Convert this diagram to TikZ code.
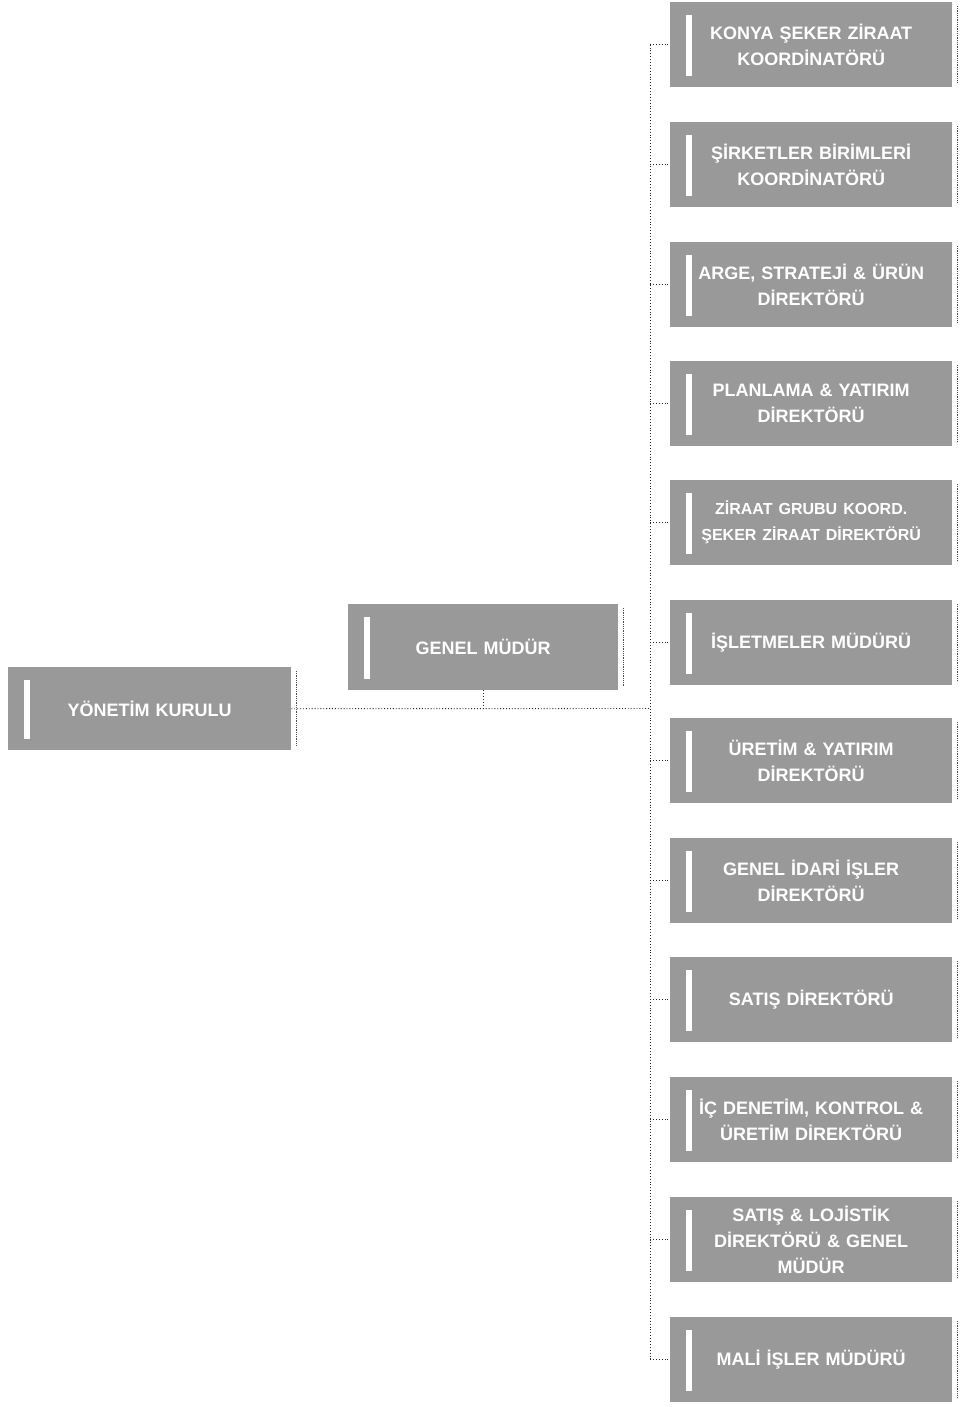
\documentclass[tikz,border=0pt]{standalone}
\usepackage{fontspec}
\setmainfont{Liberation Sans}
\begin{document}
\begin{tikzpicture}[x=1pt,y=-1pt,
 box/.style={fill=black!40, draw=none, text=white,
   font=\fontsize{18}{26}\selectfont\bfseries, align=center,
   inner sep=0pt, text width=246pt, minimum width=282pt, minimum height=85pt,
   anchor=north west,
   path picture={\fill[white] ([xshift=16pt,yshift=-13pt]path picture bounding box.north west)
      rectangle ([xshift=22pt,yshift=11pt]path picture bounding box.south west);}},
 redge/.style={draw=black!70, densely dotted, line width=0.8pt},
 link/.style={draw=black!85, dotted, line width=0.9pt}]
\useasboundingbox (0,0) rectangle (968,1407);

\node[box, minimum width=283pt, minimum height=83pt, text width=240pt] (yk) at (8,667) {YÖNETİM KURULU};
\node[box, minimum width=270pt, minimum height=86pt, text width=240pt] (gm) at (348,604) {GENEL MÜDÜR};

\foreach \i/\y/\t in {
 1/2/{KONYA ŞEKER ZİRAAT\\KOORDİNATÖRÜ},
 2/122/{ŞİRKETLER BİRİMLERİ\\KOORDİNATÖRÜ},
 3/242/{ARGE, STRATEJİ \& ÜRÜN\\DİREKTÖRÜ},
 4/361/{PLANLAMA \& YATIRIM\\DİREKTÖRÜ},
 5/480/{\fontsize{16}{26}\selectfont ZİRAAT GRUBU KOORD.\\ŞEKER ZİRAAT DİREKTÖRÜ},
 6/600/{İŞLETMELER MÜDÜRÜ},
 7/718/{ÜRETİM \& YATIRIM\\DİREKTÖRÜ},
 8/838/{GENEL İDARİ İŞLER\\DİREKTÖRÜ},
 9/957/{SATIŞ DİREKTÖRÜ},
 10/1077/{İÇ DENETİM, KONTROL \&\\ÜRETİM DİREKTÖRÜ},
 11/1197/{SATIŞ \& LOJİSTİK\\DİREKTÖRÜ \& GENEL\\MÜDÜR},
 12/1317/{MALİ İŞLER MÜDÜRÜ}} {
  \node[box] (b\i) at (670,\y) {\t};
  \draw[redge] ([xshift=5pt,yshift=-4pt]b\i.north east) -- ([xshift=5pt,yshift=4pt]b\i.south east);
}
\draw[redge] ([xshift=5pt,yshift=-4pt]yk.north east) -- ([xshift=5pt,yshift=4pt]yk.south east);
\draw[redge] ([xshift=5pt,yshift=-4pt]gm.north east) -- ([xshift=5pt,yshift=4pt]gm.south east);

\coordinate (sp) at (650,0);
\coordinate (J) at (650,708.5);
\draw[link] (yk.east) -- (J);
\draw[link] (gm.south) -- (gm.south |- J);
\draw[link] (b1.west -| sp) -- (b12.west -| sp);
\foreach \i in {1,...,12} {
  \draw[link] (b\i.west -| sp) -- (b\i.west);
}
\end{tikzpicture}
\end{document}
